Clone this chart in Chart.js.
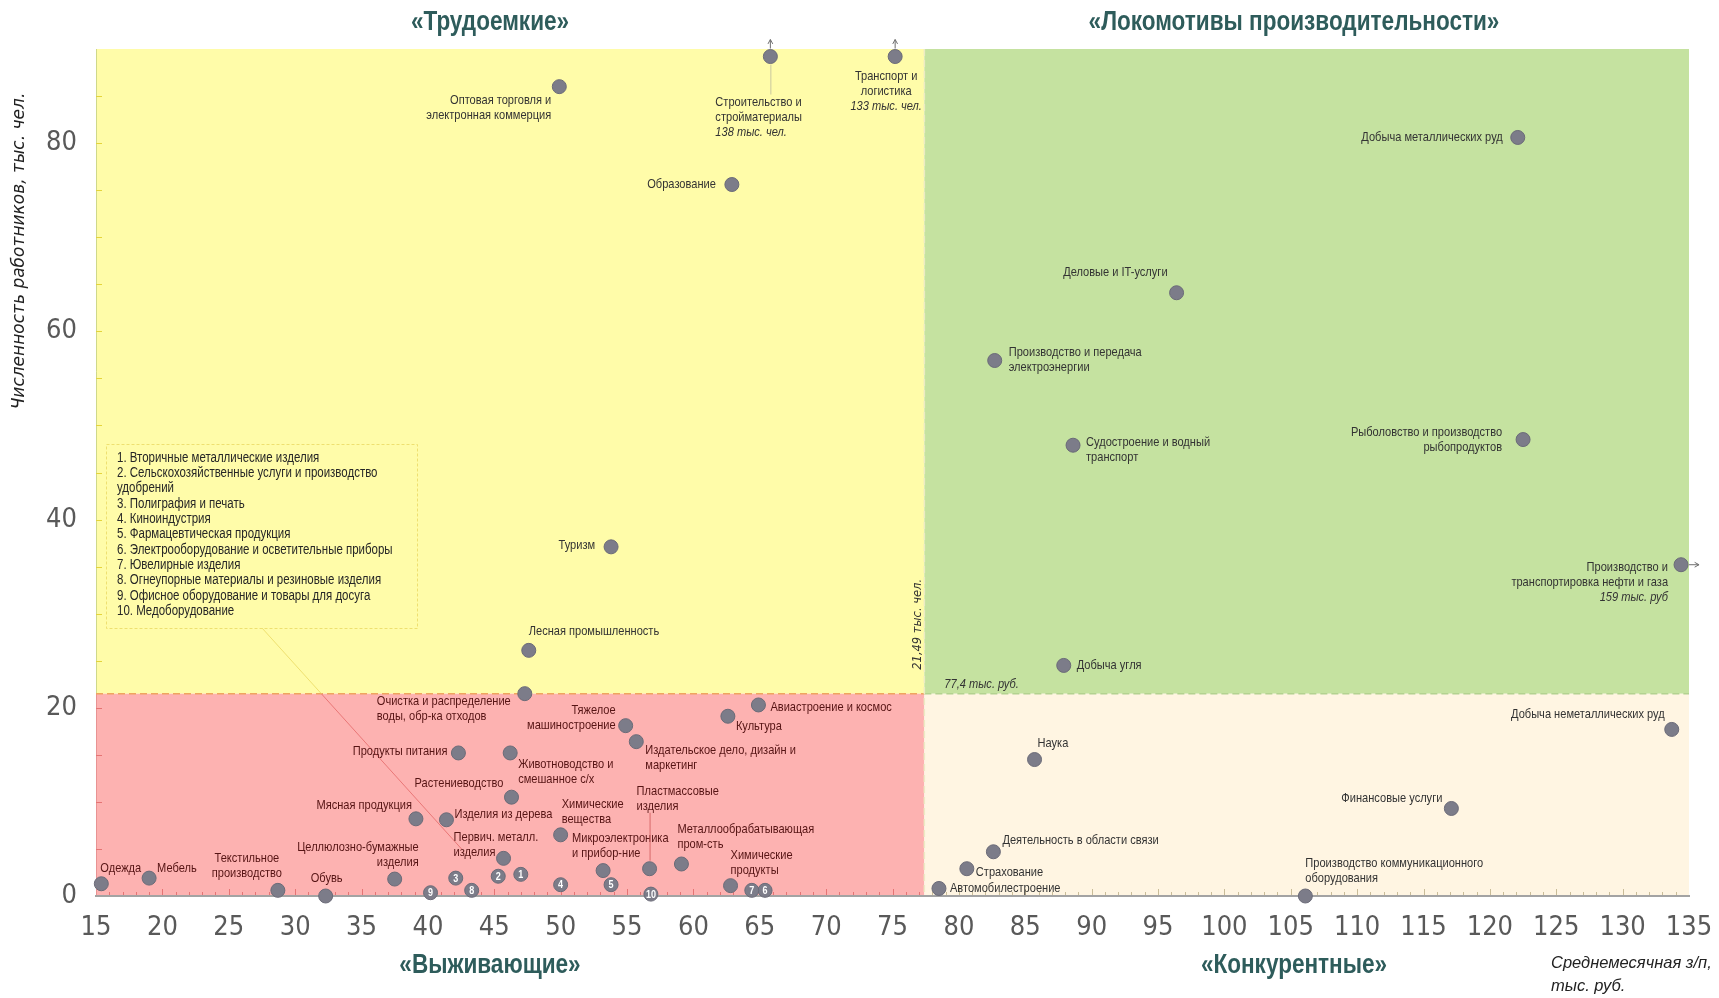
<!DOCTYPE html>
<html lang="ru">
<head>
<meta charset="utf-8">
<title>Отрасли: зарплата и численность работников</title>
<script src="https://cdn.jsdelivr.net/npm/chart.js@4.4.1/dist/chart.umd.min.js"></script>
<style>
  html, body { margin: 0; padding: 0; background: #fff; }
  #wrap { width: 1719px; height: 998px; position: relative; }
</style>
</head>
<body>
<div id="wrap"><canvas id="matrix"></canvas></div>
<script>
/* ---------------------------------------------------------------
   DATA — средняя з/п (тыс. руб.) и численность (тыс. чел.)
   --------------------------------------------------------------- */
const sectors = [
  "Оптовая торговля и\nэлектронная коммерция",
  "Строительство и\nстройматериалы",
  "Транспорт и\nлогистика",
  "Образование",
  "Туризм",
  "Лесная промышленность",
  "Очистка и распределение\nводы, обр-ка отходов",
  "Авиастроение и космос",
  "Культура",
  "Тяжелое\nмашиностроение",
  "Издательское дело, дизайн и\nмаркетинг",
  "Продукты питания",
  "Животноводство и\nсмешанное с/х",
  "Растениеводство",
  "Мясная продукция",
  "Изделия из дерева",
  "Химические\nвещества",
  "Первич. металл.\nизделия",
  "Микроэлектроника\nи прибор-ние",
  "Пластмассовые\nизделия",
  "Металлообрабатывающая\nпром-сть",
  "Химические\nпродукты",
  "Целлюлозно-бумажные\nизделия",
  "Текстильное\nпроизводство",
  "Обувь",
  "Мебель",
  "Одежда",
  "Автомобилестроение",
  "Страхование",
  "Деятельность в области связи",
  "Наука",
  "Финансовые услуги",
  "Производство коммуникационного\nоборудования",
  "Добыча неметаллических руд",
  "Добыча угля",
  "Производство и\nтранспортировка нефти и газа",
  "Рыболовство и производство\nрыбопродуктов",
  "Судостроение и водный\nтранспорт",
  "Производство и передача\nэлектроэнергии",
  "Деловые и IT-услуги",
  "Добыча металлических руд"
];
const wage = [49.9, 65.8, 75.2, 62.9, 53.8, 47.6, 47.3, 64.9, 62.6, 54.9, 55.7, 42.3, 46.2, 46.3, 39.1, 41.4, 50.0, 45.7, 53.2, 56.7, 59.1, 62.8, 37.5, 28.7, 32.3, 19.0, 15.4, 78.5, 80.6, 82.6, 85.7, 117.1, 106.1, 133.7, 87.9, 159, 122.5, 88.6, 82.7, 96.4, 122.1];
const staff = [86.0, 138, 133, 75.6, 37.1, 26.1, 21.5, 20.3, 19.1, 18.1, 16.4, 15.2, 15.2, 10.5, 8.2, 8.1, 6.5, 4.0, 2.7, 2.9, 3.4, 1.1, 1.8, 0.6, 0.0, 1.9, 1.3, 0.8, 2.9, 4.7, 14.5, 9.3, 0.0, 17.7, 24.5, 35.2, 48.5, 47.9, 56.9, 64.1, 80.6];
const notes = ["", "138 тыс. чел.", "133 тыс. чел.", "", "", "", "", "", "", "", "", "", "", "", "", "", "", "", "", "", "", "", "", "", "", "", "", "", "", "", "", "", "", "", "", "159 тыс. руб", "", "", "", "", ""];

// small sectors shown by number
const numberedSectors = [
  "Вторичные металлические изделия",
  "Сельскохозяйственные услуги и производство\nудобрений",
  "Полиграфия и печать",
  "Киноиндустрия",
  "Фармацевтическая продукция",
  "Электрооборудование и осветительные приборы",
  "Ювелирные изделия",
  "Огнеупорные материалы и резиновые изделия",
  "Офисное оборудование и товары для досуга",
  "Медоборудование"
];
const numberedWage = [47.0, 45.3, 42.1, 50.0, 53.8, 65.4, 64.4, 43.3, 40.2, 56.8];
const numberedStaff = [2.3, 2.1, 1.9, 1.2, 1.2, 0.6, 0.6, 0.6, 0.35, 0.2];

const xTicks = [15, 20, 25, 30, 35, 40, 45, 50, 55, 60, 65, 70, 75, 80, 85, 90, 95, 100, 105, 110, 115, 120, 125, 130, 135];
const yTicks = [0, 20, 40, 60, 80];
const medianWage = 77.4;
const medianStaff = 21.49;

const quadrantNames = ["«Трудоемкие»", "«Локомотивы производительности»", "«Выживающие»", "«Конкурентные»"];
const yTitle = "Численность работников, тыс. чел.";
const xTitle = ["Среднемесячная з/п,", "тыс. руб."];

/* ---------------------------------------------------------------
   LABEL LAYOUT (px offsets from the point, align, leader length)
   --------------------------------------------------------------- */
const labelPos = [
  [-8, 14, "right"], [-55, 46, "left", 38], [-9, 20, "center"], [-16, 0, "right"], [-16, -2, "right"],
  [0, -19, "left"], [-148, 8, "left"], [12, 2, "left"], [8, 10, "left"], [-10, -15, "right"],
  [9, 9, "left"], [-11, -2, "right"], [8, 11, "left"], [-8, -14, "right"], [-4, -14, "right"],
  [8, -5, "left"], [1, -31, "left"], [-50, -21, "left"], [-31, -32, "left"], [-13, -77, "left", -56],
  [-4, -35, "left"], [0, -30, "left"], [24, -32, "right"], [-31, -32, "center"], [1, -18, "center"],
  [8, -10, "left"], [-1, -15, "left"], [11, 0, "left"], [9, 4, "left"], [9, -11, "left"],
  [3, -16, "left"], [-9, -10, "right"], [0, -33, "left"], [-7, -15, "right"], [13, 0, "left"],
  [-13, 3, "right"], [-21, -7, "right"], [13, -3, "left"], [14, -8, "left"], [-9, -20, "right"],
  [-15, 0, "right"]
];

const SANS = "'Liberation Sans', Arial, sans-serif";
const TICK_FONT = "'DejaVu Sans Condensed', 'DejaVu Sans', sans-serif";
const SQ = 0.82;      // horizontal squeeze to imitate a narrow face
const xCap = 134.4;   // points beyond the axis are pinned to the edge with an arrow
const yCap = 89.2;
const LH = 15;

function seg(ctx, x1, y1, x2, y2) {
  ctx.beginPath(); ctx.moveTo(x1, y1); ctx.lineTo(x2, y2); ctx.stroke();
}

function arrow(ctx, x1, y1, x2, y2) {
  seg(ctx, x1, y1, x2, y2);
  const ang = Math.atan2(y2 - y1, x2 - x1);
  ctx.beginPath();
  ctx.moveTo(x2 - 5 * Math.cos(ang - 0.5), y2 - 5 * Math.sin(ang - 0.5));
  ctx.lineTo(x2, y2);
  ctx.lineTo(x2 - 5 * Math.cos(ang + 0.5), y2 - 5 * Math.sin(ang + 0.5));
  ctx.stroke();
}

// narrow text: draw squeezed around its anchor
function ntext(ctx, t, x, y, align, font) {
  ctx.save();
  ctx.font = font;
  ctx.textAlign = align;
  ctx.translate(x, y);
  ctx.scale(SQ, 1);
  ctx.fillText(t, 0, 0);
  ctx.restore();
}

/* ---------------------------------------------------------------
   PLUGIN: quadrants, ticks, labels, annotations
   --------------------------------------------------------------- */
const matrixPlugin = {
  id: "matrix",
  beforeDraw(chart) {
    const { ctx, chartArea: a, scales: { x, y } } = chart;
    const vx = x.getPixelForValue(medianWage);
    const hy = y.getPixelForValue(medianStaff);
    ctx.save();

    ctx.fillStyle = "#fffca9"; ctx.fillRect(a.left, a.top, vx - a.left, hy - a.top);
    ctx.fillStyle = "#c5e2a0"; ctx.fillRect(vx, a.top, a.right - vx, hy - a.top);
    ctx.fillStyle = "#fdb2b1"; ctx.fillRect(a.left, hy, vx - a.left, a.bottom - hy);
    ctx.fillStyle = "#fff5e2"; ctx.fillRect(vx, hy, a.right - vx, a.bottom - hy);

    // left edge
    ctx.lineWidth = 1;
    ctx.strokeStyle = "#cfd88a"; seg(ctx, a.left + 0.5, a.top, a.left + 0.5, hy);
    ctx.strokeStyle = "#e89393"; seg(ctx, a.left + 0.5, hy, a.left + 0.5, a.bottom);

    // minor ticks
    for (let v = 16; v < 135; v++) {
      const px = Math.round(x.getPixelForValue(v)) + 0.5;
      const len = v % 5 === 0 ? 7 : 4;
      ctx.strokeStyle = v < medianWage ? "#e57474" : "#c9bc98";
      seg(ctx, px, a.bottom - len, px, a.bottom);
    }
    for (let v = 5; v < 90; v += 5) {
      const py = Math.round(y.getPixelForValue(v)) + 0.5;
      ctx.strokeStyle = v < medianStaff ? "#e57474" : "#e4d43c";
      seg(ctx, a.left, py, a.left + 6, py);
    }

    // median lines
    ctx.setLineDash([7, 4]);
    ctx.lineWidth = 1.5;
    ctx.strokeStyle = "#f0a45e"; seg(ctx, a.left, hy, vx, hy);
    ctx.strokeStyle = "#b3d290"; seg(ctx, vx, hy, a.right, hy);
    ctx.strokeStyle = "#ecebc4"; seg(ctx, vx, a.top, vx, a.bottom);
    ctx.setLineDash([]);

    // legend of numbered sectors
    const bx = 106, by = 444, bw = 311, bh = 184;
    ctx.setLineDash([3, 2]);
    ctx.lineWidth = 1;
    ctx.strokeStyle = "#eee070";
    ctx.strokeRect(bx + 0.5, by + 0.5, bw, bh);
    ctx.setLineDash([]);

    // leader from the legend to the cluster
    const ex = x.getPixelForValue(42.6), ey = y.getPixelForValue(4.9);
    ctx.save();
    ctx.beginPath(); ctx.rect(a.left, a.top, a.width, hy - a.top); ctx.clip();
    ctx.strokeStyle = "#eee070"; seg(ctx, 262, by + bh, ex, ey);
    ctx.restore();
    ctx.save();
    ctx.beginPath(); ctx.rect(a.left, hy, a.width, a.bottom - hy); ctx.clip();
    ctx.strokeStyle = "#e97777"; seg(ctx, 262, by + bh, ex, ey);
    ctx.restore();

    ctx.fillStyle = "#262626";
    ctx.textBaseline = "middle";
    let ly = by + 14;
    numberedSectors.forEach((s, i) => {
      s.split("\n").forEach((t, k) => {
        ntext(ctx, (k === 0 ? (i + 1) + ". " : "") + t, bx + 11, ly, "left", "14px " + SANS);
        ly += 15.3;
      });
    });

    ctx.restore();
  },

  afterDatasetsDraw(chart) {
    const { ctx, scales: { x, y } } = chart;
    const vx = x.getPixelForValue(medianWage);
    const hy = y.getPixelForValue(medianStaff);
    const pts = chart.getDatasetMeta(0).data;
    ctx.save();
    ctx.textBaseline = "middle";

    // sector labels
    sectors.forEach((name, i) => {
      const p = pts[i];
      const [dx, dy, align, leader] = labelPos[i];
      const lx = p.x + dx, ly = p.y + dy;
      const red = lx < vx && ly > hy;
      ctx.fillStyle = red ? "#561414" : "#333333";
      const rows = name.split("\n");
      rows.forEach((t, k) => ntext(ctx, t, lx, ly + k * LH, align, "13.5px " + SANS));
      if (notes[i]) ntext(ctx, notes[i], lx, ly + rows.length * LH, align, "italic 13.5px " + SANS);
      if (leader) {
        ctx.lineWidth = 1;
        ctx.strokeStyle = red ? "#d86a6a" : "#c9c7a0";
        const s = Math.sign(leader);
        seg(ctx, p.x + 0.5, p.y + s * 8, p.x + 0.5, p.y + leader);
      }
      // overflow arrows
      ctx.strokeStyle = "#6f6f6f";
      ctx.lineWidth = 1;
      if (staff[i] > yCap) arrow(ctx, p.x, p.y - 8, p.x, p.y - 17);
      if (wage[i] > xCap) arrow(ctx, p.x + 8, p.y, p.x + 18, p.y);
    });

    // numbers inside small points
    const nPts = chart.getDatasetMeta(1).data;
    ctx.fillStyle = "#ffffff";
    nPts.forEach((p, i) => ntext(ctx, String(i + 1), p.x, p.y + 0.5, "center", "bold 11px " + SANS));

    // median annotations
    ctx.fillStyle = "#333";
    ntext(ctx, String(medianWage).replace(".", ",") + " тыс. руб.", vx + 20, hy - 10, "left", "italic 13.5px " + SANS);
    ctx.save();
    ctx.translate(vx - 6, hy - 24);
    ctx.rotate(-Math.PI / 2);
    ctx.textAlign = "left";
    ctx.font = "italic 11.5px 'DejaVu Sans', sans-serif";
    ctx.fillText(String(medianStaff).replace(".", ",") + " тыс. чел.", 0, 0);
    ctx.restore();

    // quadrant titles
    ctx.fillStyle = "#2e5c5b";
    const lc = 490, rc = 1294, tf = "bold 27.5px " + SANS;
    ntext(ctx, quadrantNames[0], lc, 22, "center", tf);
    ntext(ctx, quadrantNames[1], rc, 22, "center", tf);
    ntext(ctx, quadrantNames[2], lc, 965, "center", tf);
    ntext(ctx, quadrantNames[3], rc, 965, "center", tf);

    // axis titles
    ctx.fillStyle = "#222";
    ctx.font = "italic 16.5px " + SANS;
    ctx.textAlign = "left";
    ctx.fillText(xTitle[0], 1551, 963);
    ctx.fillText(xTitle[1], 1551, 986);
    ctx.save();
    ctx.translate(20, 251);
    ctx.rotate(-Math.PI / 2);
    ctx.textAlign = "center";
    ctx.font = "italic 17px 'DejaVu Sans', sans-serif";
    ctx.fillText(yTitle, 0, 0);
    ctx.restore();

    ctx.restore();
  }
};

/* ---------------------------------------------------------------
   CHART
   --------------------------------------------------------------- */
const pointStyle = {
  pointRadius: 7,
  pointHoverRadius: 7,
  pointBackgroundColor: "#7c7c89",
  pointBorderColor: "#6b6b78",
  pointBorderWidth: 1,
  showLine: false,
  clip: false
};

new Chart(document.getElementById("matrix"), {
  type: "scatter",
  data: {
    datasets: [
      {
        label: "Отрасли",
        data: sectors.map((s, i) => ({ x: Math.min(wage[i], xCap), y: Math.min(staff[i], yCap) })),
        ...pointStyle
      },
      {
        label: "Прочие отрасли",
        data: numberedSectors.map((s, i) => ({ x: numberedWage[i], y: numberedStaff[i] })),
        ...pointStyle
      }
    ]
  },
  options: {
    responsive: true,
    maintainAspectRatio: false,
    animation: false,
    layout: { padding: { top: 49, right: 30, left: 0, bottom: 0 } },
    plugins: {
      legend: { display: false },
      tooltip: { enabled: false }
    },
    scales: {
      x: {
        type: "linear",
        min: 15,
        max: 135,
        afterBuildTicks: (s) => { s.ticks = xTicks.map((v) => ({ value: v })); },
        afterFit: (s) => { s.height = 102; s.paddingLeft = 0; s.paddingRight = 0; },
        grid: { display: false, drawTicks: false },
        border: { color: "#a3a3a3", width: 2 },
        ticks: { color: "#595959", padding: 16, maxRotation: 0, autoSkip: false, font: { family: TICK_FONT, size: 27 } }
      },
      y: {
        type: "linear",
        min: 0,
        max: 90,
        afterBuildTicks: (s) => { s.ticks = yTicks.map((v) => ({ value: v })); },
        afterFit: (s) => { s.width = 96; s.paddingTop = 0; s.paddingBottom = 0; },
        grid: { display: false, drawTicks: false },
        border: { display: false },
        ticks: { color: "#595959", padding: 19, font: { family: TICK_FONT, size: 27 } }
      }
    }
  },
  plugins: [matrixPlugin]
});
</script>
</body>
</html>
